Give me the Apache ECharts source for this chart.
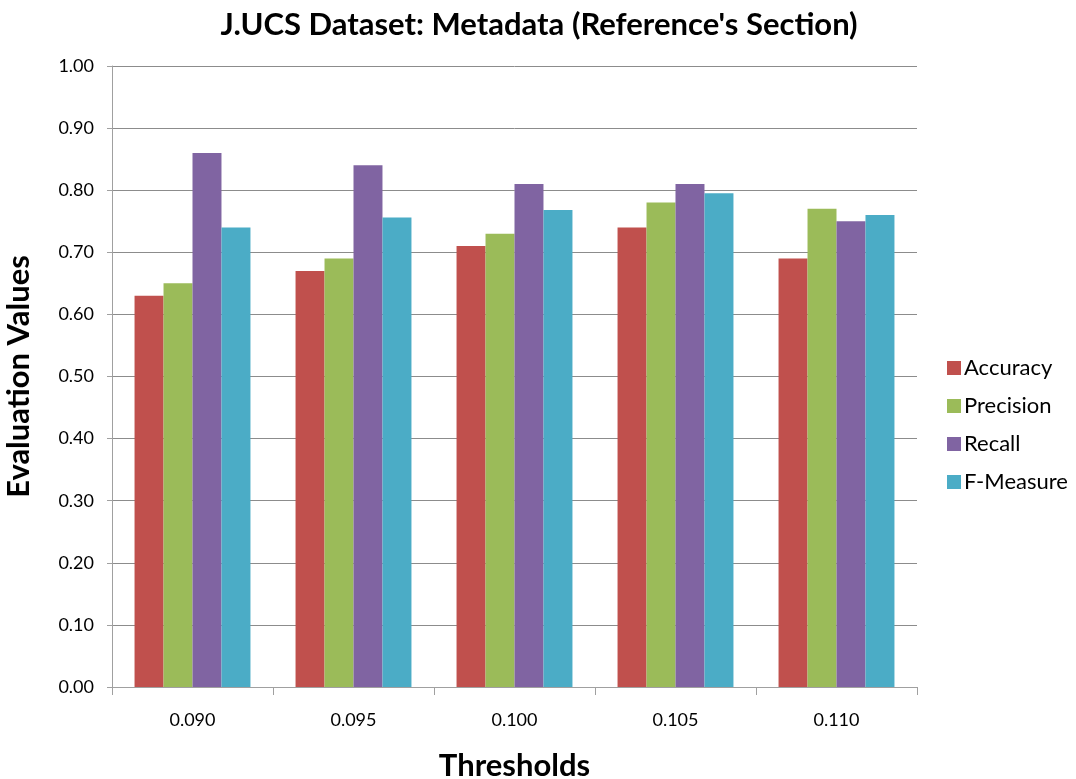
<!DOCTYPE html>
<html><head><meta charset="utf-8">
<script src="https://cdn.jsdelivr.net/npm/echarts@6/dist/echarts.min.js"></script>
<style>html,body{margin:0;padding:0;background:#fff}#c{width:1076px;height:779px}</style>
</head><body><div id="c"></div>
<script>
const categories = ['0.090','0.095','0.100','0.105','0.110'];
const accuracy = [0.63, 0.67, 0.71, 0.74, 0.69];
const precision = [0.65, 0.69, 0.73, 0.78, 0.77];
const recall = [0.86, 0.84, 0.81, 0.81, 0.75];
const fmeasure = [0.74, 0.756, 0.768, 0.795, 0.76];
const seriesNames = ['Accuracy','Precision','Recall','F-Measure'];
const colors = ['#C0504D','#9BBB59','#8064A2','#4BACC6'];
const FONT = 'Lato';
const chart = echarts.init(document.getElementById('c'));
const data = [accuracy, precision, recall, fmeasure];
chart.setOption({
  animation: false,
  color: colors,
  title: {
    text: "J.UCS Dataset: Metadata (Reference's Section)",
    left: 534, top: 4, textAlign: 'center',
    textStyle: {fontFamily: FONT, fontSize: 31, fontWeight: 'bold', color: '#000'}
  },
  legend: {
    orient: 'vertical', left: 942, top: 352, itemGap: 16,
    itemWidth: 14, itemHeight: 14, icon: 'rect',
    textStyle: {fontFamily: FONT, fontSize: 22, color: '#000', padding: [0,0,0,-2]}
  },
  grid: {left: 112, right: 159, top: 66, bottom: 92, containLabel: false, outerBoundsMode: 'none'},
  xAxis: {
    type: 'category', data: categories,
    name: 'Thresholds', nameLocation: 'middle', nameGap: 63,
    nameTextStyle: {fontFamily: FONT, fontSize: 31, fontWeight: 'bold', color: '#000'},
    axisLine: {lineStyle: {color: '#A0A0A0', width: 1}},
    axisTick: {show: true, length: 8, alignWithLabel: false, lineStyle: {color: '#A0A0A0'}},
    axisLabel: {fontFamily: FONT, fontSize: 18, color: '#000', margin: 24}
  },
  yAxis: {
    type: 'value', min: 0, max: 1, interval: 0.1,
    name: 'Evaluation Values', nameLocation: 'middle', nameGap: 78,
    nameTextStyle: {fontFamily: FONT, fontSize: 31, fontWeight: 'bold', color: '#000'},
    axisLine: {show: true, lineStyle: {color: '#A0A0A0', width: 1}},
    axisTick: {show: true, length: 5, lineStyle: {color: '#A0A0A0'}},
    axisLabel: {fontFamily: FONT, fontSize: 18, color: '#000', margin: 18,
      formatter: v => v.toFixed(2)},
    splitLine: {lineStyle: {color: '#8C8C8C', width: 1}}
  },
  series: seriesNames.map((n, i) => ({
    name: n, type: 'bar', data: data[i],
    barGap: '0%', barCategoryGap: '28%',
    itemStyle: {color: colors[i]}
  }))
});
</script></body></html>
